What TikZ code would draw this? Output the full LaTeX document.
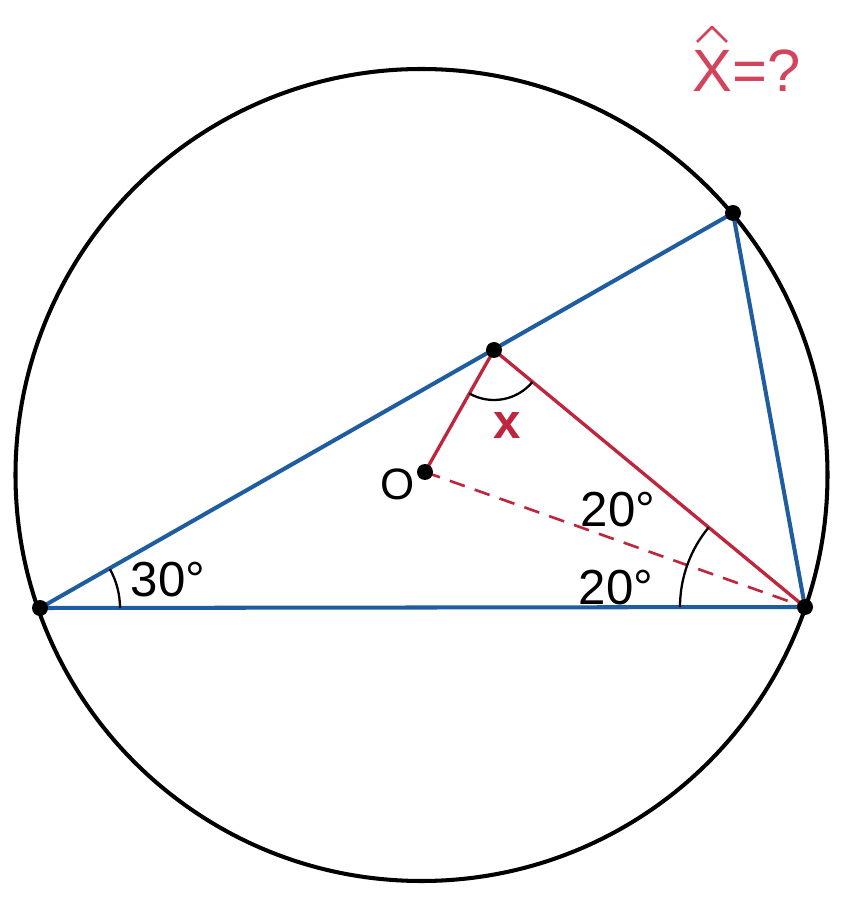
\documentclass[tikz,border=0pt]{standalone}
\usepackage{fontspec}
\setmainfont{Liberation Sans}

\definecolor{chordblue}{RGB}{31,92,160}
\definecolor{segred}{RGB}{190,38,62}
\definecolor{askred}{RGB}{210,68,92}

\begin{document}
\begin{tikzpicture}[x=0.02cm,y=0.02cm,line join=round,
  lbl/.style={inner sep=0pt,font=\fontsize{28}{30}\selectfont},
  blueln/.style={chordblue,line width=2.3pt},
  redln/.style={segred,line width=1.9pt}]
\useasboundingbox (0,0) rectangle (846,904);
%\draw[help lines,step=50] (0,0) grid (846,904);
\coordinate (Z) at (421.5,429);
\draw[line width=2.3pt] (Z) circle[radius=406];
\foreach \n/\x/\y in {A/40/296, B/805/297, C/733/691, M/494/554, O/425/432}
  \coordinate (\n) at (\x,\y);

\draw[blueln] (A) -- (B) -- (C) -- cycle;
\draw[redln] (O) -- (M) -- (B);
\draw[redln,line width=1.5pt,dash pattern=on 9pt off 6pt] (O) -- (B);

% angle marks
\draw[line width=1.3pt] ([shift={(0:80)}]A) arc[start angle=0,end angle=29,radius=80];
\draw[line width=1.3pt] ([shift={(180:125)}]B) arc[start angle=180,end angle=160.4,radius=125];
\draw[line width=1.3pt] ([shift={(160.4:125)}]B) arc[start angle=160.4,end angle=140.4,radius=125];
\draw[line width=1.3pt] ([shift={(240.5:50)}]M) arc[start angle=240.5,end angle=320.4,radius=50];

\foreach \n in {A,B,C,M,O}
  \fill (\n) circle[radius=8];

\node[lbl] (a30) at (168,324) {30°};
\node[lbl] (b20) at (616,316) {20°};
\node[lbl] (t20) at (618,394) {20°};
\node[lbl,segred,font=\fontsize{28}{30}\selectfont\bfseries] (x) at (507,478) {x};
\node[lbl,font=\fontsize{25}{28}\selectfont] (o) at (398,420) {O};
\node[lbl,askred,font=\fontsize{34}{38}\selectfont,anchor=base west] (ask) at (692,812) {X=?};
\draw[askred,line width=1.6pt] ([shift={(5,50)}]ask.base west) -- ++(15,15) -- ++(15,-15);
\end{tikzpicture}
\end{document}
